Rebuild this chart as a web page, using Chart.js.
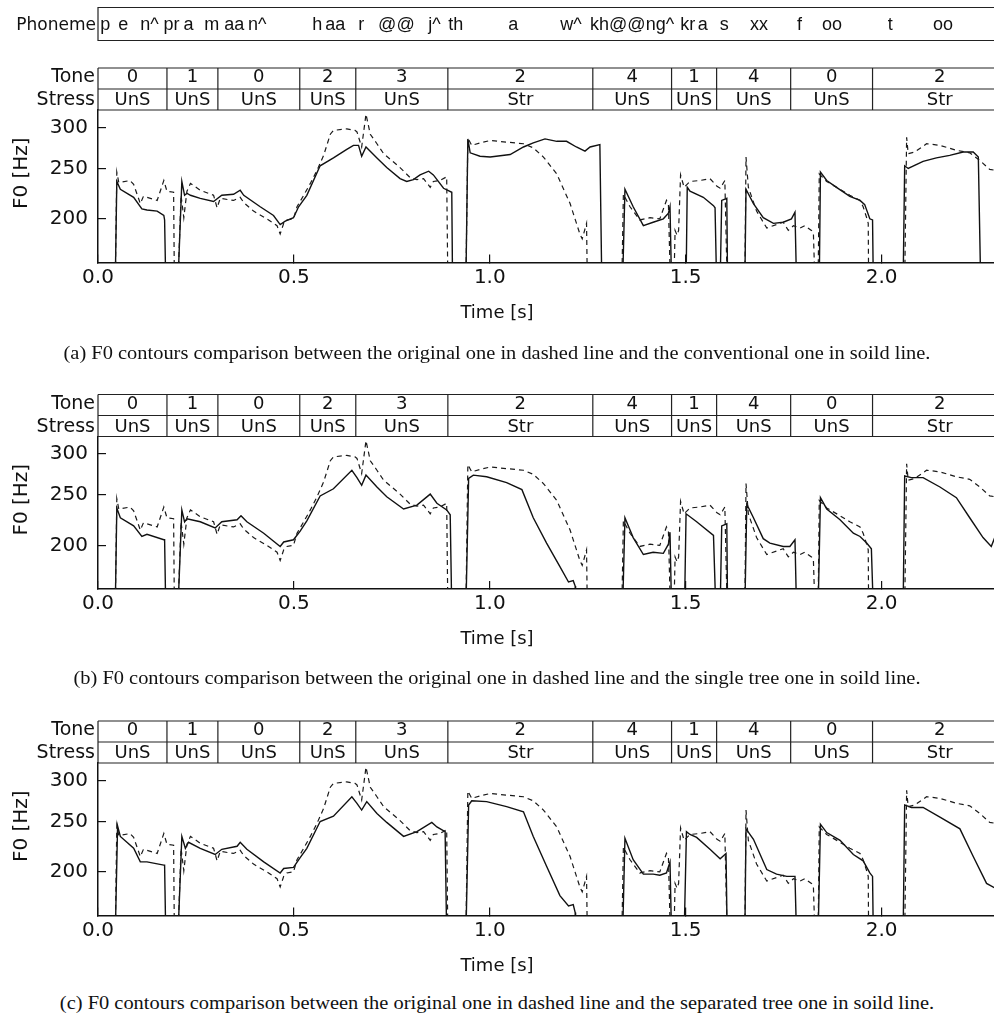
<!DOCTYPE html>
<html>
<head>
<meta charset="utf-8">
<script src="https://cdn.jsdelivr.net/npm/chart.js@4.4.1/dist/chart.umd.min.js"></script>
<style>
  body { margin: 0; background: #fff; width: 994px; height: 1014px; overflow: hidden; position: relative; }
  .panel { position: absolute; left: 0; width: 994px; }
  .cap { position: absolute; left: 0; width: 994px; text-align: center; line-height: 22px;
         font-family: "Liberation Serif", "Times New Roman", serif; font-size: 18px; color: #111;
         transform: scaleX(1.135); transform-origin: 497px 0; white-space: nowrap; }
</style>
</head>
<body>
<div class="panel" style="top:0"><canvas id="c1" width="994" height="330"></canvas></div>
<div class="panel" style="top:330px"><canvas id="c2" width="994" height="325"></canvas></div>
<div class="panel" style="top:655px"><canvas id="c3" width="994" height="335"></canvas></div>
<div class="cap" style="top:342px">(a) F0 contours comparison between the original one in dashed line and the conventional one in soild line.</div>
<div class="cap" style="top:667px">(b) F0 contours comparison between the original one in dashed line and the single tree one in soild line.</div>
<div class="cap" style="top:992px">(c) F0 contours comparison between the original one in dashed line and the separated tree one in soild line.</div>
<script>
// axis ticks
var xTicks = [0, 0.5, 1.0, 1.5, 2.0];
var xTickLabels = ["0.0", "0.5", "1.0", "1.5", "2.0"];
var yTicks = [200, 250, 300];
var yTickLabels = ["200", "250", "300"];

// syllable table (boundaries in seconds)
var segEdges = [0, 0.176, 0.306, 0.515, 0.658, 0.893, 1.263, 1.464, 1.579, 1.768, 1.977, 2.32];
var tones = ["0", "1", "0", "2", "3", "2", "4", "1", "4", "0", "2"];
var stresses = ["UnS", "UnS", "UnS", "UnS", "UnS", "Str", "UnS", "UnS", "UnS", "UnS", "Str"];

// phoneme labels and their start times
var phonemes = ["p", "e", "n^", "pr", "a", "m", "aa", "n^", "h", "aa", "r", "@@", "j^", "th", "a", "w^", "kh@@ng^", "kr", "a", "s", "xx", "f", "oo", "t", "oo"];
var phonemeT = [0.006, 0.052, 0.108, 0.167, 0.218, 0.271, 0.322, 0.383, 0.547, 0.580, 0.664, 0.715, 0.843, 0.894, 1.047, 1.180, 1.256, 1.486, 1.531, 1.587, 1.664, 1.784, 1.848, 2.016, 2.131];

// unvoiced frames drop below the axis floor
var U = 150;

// original F0 (dashed), same in every panel
var f0Orig = [
  [0.044,U],[0.048,246],[0.053,235],[0.082,237],[0.091,233],[0.108,214],[0.116,221],[0.151,217],[0.168,237],[0.176,226],[0.193,225],[0.195,U],
  [0.204,U],[0.212,222],[0.219,201],[0.227,226],[0.236,234],[0.261,227],[0.295,222],[0.304,210],[0.312,219],[0.346,217],[0.363,220],[0.372,215],[0.397,207],[0.431,200],[0.457,194],[0.465,187],[0.474,196],[0.482,199],[0.499,200],[0.508,211],[0.525,222],[0.542,234],[0.559,248],[0.576,265],[0.593,291],[0.601,296],[0.635,298],[0.656,296],[0.661,294],[0.673,275],[0.684,318],[0.695,291],[0.712,279],[0.729,267],[0.771,251],[0.797,240],[0.814,238],[0.831,239],[0.848,230],[0.856,236],[0.873,237],[0.890,241],[0.893,U],
  [0.939,U],[0.944,286],[0.954,277],[0.975,280],[1.001,283],[1.043,281],[1.086,279],[1.111,274],[1.137,263],[1.171,244],[1.205,214],[1.230,187],[1.236,183],[1.247,196],[1.249,U],
  [1.337,U],[1.341,223],[1.358,211],[1.383,199],[1.409,201],[1.434,200],[1.451,217],[1.456,213],[1.461,U],
  [1.470,U],[1.473,190],[1.478,186],[1.482,190],[1.487,243],[1.496,230],[1.511,236],[1.536,237],[1.562,239],[1.580,231],[1.588,229],[1.600,237],[1.606,U],
  [1.651,U],[1.654,263],[1.660,230],[1.681,207],[1.707,192],[1.732,195],[1.749,197],[1.762,190],[1.775,194],[1.792,192],[1.804,194],[1.821,190],[1.826,188],[1.830,U],
  [1.838,U],[1.841,244],[1.860,236],[1.894,228],[1.919,222],[1.945,217],[1.953,211],[1.962,201],[1.966,196],[1.967,U],
  [2.059,U],[2.064,287],[2.068,267],[2.085,269],[2.115,279],[2.149,277],[2.191,271],[2.225,268],[2.251,259],[2.276,249],[2.29,248]
];

// (a) conventional
var f0Conv = [
  [0.044,U],[0.048,236],[0.057,228],[0.091,220],[0.112,209],[0.125,208],[0.151,207],[0.168,203],[0.170,199],[0.173,U],
  [0.204,U],[0.214,236],[0.221,222],[0.227,224],[0.236,222],[0.261,219],[0.295,216],[0.316,222],[0.346,223],[0.363,227],[0.372,222],[0.414,211],[0.448,203],[0.465,195],[0.478,198],[0.499,201],[0.512,211],[0.533,222],[0.567,253],[0.601,262],[0.635,272],[0.652,277],[0.665,277],[0.673,264],[0.684,275],[0.712,262],[0.737,251],[0.771,239],[0.788,236],[0.805,238],[0.822,243],[0.844,247],[0.856,243],[0.882,229],[0.903,225],[0.905,U],
  [0.939,U],[0.944,285],[0.950,268],[0.975,264],[1.001,263],[1.052,266],[1.086,275],[1.111,280],[1.141,285],[1.171,282],[1.196,282],[1.221,275],[1.243,270],[1.256,275],[1.281,278],[1.286,U],
  [1.339,U],[1.345,228],[1.366,211],[1.392,194],[1.417,197],[1.443,200],[1.456,205],[1.460,211],[1.464,U],
  [1.501,U],[1.504,230],[1.511,226],[1.545,220],[1.571,212],[1.575,210],[1.579,U],
  [1.588,U],[1.592,217],[1.605,219],[1.607,U],
  [1.651,U],[1.654,228],[1.673,214],[1.698,201],[1.724,196],[1.749,197],[1.770,200],[1.779,206],[1.783,U],
  [1.841,U],[1.844,246],[1.860,237],[1.885,230],[1.919,221],[1.945,217],[1.957,213],[1.970,200],[1.977,199],[1.979,U],
  [2.055,U],[2.059,253],[2.068,250],[2.106,258],[2.140,262],[2.174,265],[2.208,269],[2.234,269],[2.247,263],[2.253,U]
];

// (b) single tree
var f0Single = [
  [0.044,U],[0.048,236],[0.057,226],[0.091,218],[0.112,208],[0.125,210],[0.168,205],[0.170,205],[0.173,U],
  [0.204,U],[0.214,234],[0.221,222],[0.227,225],[0.261,222],[0.299,216],[0.316,222],[0.355,224],[0.365,228],[0.380,222],[0.423,211],[0.465,199],[0.474,203],[0.499,205],[0.516,213],[0.533,223],[0.567,249],[0.601,257],[0.648,279],[0.661,270],[0.673,261],[0.684,273],[0.712,259],[0.737,248],[0.780,235],[0.814,239],[0.848,251],[0.865,241],[0.890,234],[0.899,229],[0.903,U],
  [0.939,U],[0.946,269],[0.958,273],[0.992,271],[1.043,264],[1.082,256],[1.111,226],[1.145,202],[1.179,182],[1.201,170],[1.213,171],[1.218,167],[1.219,U],
  [1.339,U],[1.345,226],[1.366,207],[1.392,192],[1.417,194],[1.443,193],[1.456,201],[1.460,212],[1.464,U],
  [1.497,U],[1.501,230],[1.528,222],[1.571,209],[1.577,U],
  [1.588,U],[1.592,218],[1.605,220],[1.607,U],
  [1.651,U],[1.656,240],[1.673,226],[1.698,206],[1.715,202],[1.749,199],[1.766,199],[1.779,205],[1.783,U],
  [1.838,U],[1.844,247],[1.860,235],[1.894,224],[1.928,211],[1.945,208],[1.962,202],[1.974,197],[1.979,U],
  [2.055,U],[2.059,272],[2.076,270],[2.106,270],[2.149,259],[2.191,247],[2.225,226],[2.259,207],[2.280,199],[2.29,208]
];

// (c) separated tree
var f0Sep = [
  [0.044,U],[0.050,245],[0.057,234],[0.091,222],[0.108,209],[0.125,209],[0.168,206],[0.170,206],[0.173,U],
  [0.204,U],[0.214,234],[0.223,222],[0.231,228],[0.261,222],[0.299,216],[0.316,221],[0.355,224],[0.363,228],[0.380,221],[0.423,209],[0.465,199],[0.474,203],[0.499,204],[0.516,213],[0.533,222],[0.567,250],[0.601,256],[0.648,279],[0.661,271],[0.673,263],[0.686,273],[0.712,259],[0.737,249],[0.780,234],[0.814,239],[0.852,249],[0.865,244],[0.886,239],[0.890,U],
  [0.939,U],[0.946,269],[0.954,274],[0.992,273],[1.043,267],[1.086,261],[1.111,234],[1.145,205],[1.179,180],[1.201,172],[1.213,173],[1.218,167],[1.219,U],
  [1.339,U],[1.345,232],[1.366,211],[1.392,198],[1.417,198],[1.434,197],[1.451,199],[1.460,209],[1.464,U],
  [1.496,U],[1.502,239],[1.511,236],[1.528,233],[1.562,221],[1.588,212],[1.603,217],[1.606,U],
  [1.651,U],[1.654,242],[1.673,231],[1.707,202],[1.732,198],[1.758,196],[1.779,196],[1.783,U],
  [1.838,U],[1.844,247],[1.860,238],[1.894,230],[1.928,216],[1.953,210],[1.970,199],[1.977,196],[1.979,U],
  [2.055,U],[2.059,269],[2.076,266],[2.106,266],[2.149,255],[2.200,242],[2.234,214],[2.268,190],[2.29,186]
];

Chart.defaults.font.family = "'DejaVu Sans'";
Chart.defaults.color = "#111";

function toXY(arr) {
  return arr.map(function (p) { return { x: p[0], y: p[1] }; });
}

function font(size, fam) { return size + "px " + (fam || "'DejaVu Sans'"); }

// table, phoneme row and axis titles
function framePlugin(showPhon) {
  return {
    id: "frame",
    afterDraw: function (chart) {
      var ctx = chart.ctx, a = chart.chartArea, x = chart.scales.x;
      var W = chart.width;
      var rTop = a.top - 42, rMid = a.top - 21;
      ctx.save();
      ctx.strokeStyle = "#222";
      ctx.lineWidth = 1.2;
      ctx.fillStyle = "#111";

      // grid of the tone/stress table
      ctx.beginPath();
      [rTop, rMid, a.top].forEach(function (yy) { ctx.moveTo(a.left, yy); ctx.lineTo(W, yy); });
      segEdges.forEach(function (t) {
        var px = x.getPixelForValue(t);
        ctx.moveTo(px, rTop); ctx.lineTo(px, a.top);
      });
      ctx.stroke();

      ctx.font = font(19);
      ctx.textAlign = "right";
      ctx.textBaseline = "alphabetic";
      ctx.fillText("Tone", a.left - 3, rTop + 14);
      ctx.fillText("Stress", a.left - 3, rMid + 16);

      ctx.font = font(18);
      ctx.textAlign = "center";
      for (var i = 0; i < tones.length; i++) {
        var cx = (x.getPixelForValue(segEdges[i]) + x.getPixelForValue(segEdges[i + 1])) / 2;
        ctx.fillText(tones[i], cx, rTop + 14);
        ctx.fillText(stresses[i], cx, rMid + 16);
      }

      if (showPhon) {
        var pTop = 7.5, pBot = 40.5;
        ctx.beginPath();
        ctx.moveTo(W, pTop); ctx.lineTo(a.left, pTop); ctx.lineTo(a.left, pBot); ctx.lineTo(W, pBot);
        ctx.stroke();
        ctx.font = font(17);
        ctx.textAlign = "right";
        ctx.fillText("Phoneme", a.left - 2, 30);
        ctx.textAlign = "left";
        ctx.font = font(18, "'Liberation Sans'");
        phonemes.forEach(function (p, k) {
          ctx.fillText(p, x.getPixelForValue(phonemeT[k]), 30);
        });
      }

      // axis titles
      ctx.font = font(18);
      ctx.textAlign = "center";
      ctx.textBaseline = "middle";
      ctx.fillText("Time [s]", W / 2, a.bottom + 50.5);
      ctx.translate(22, (a.top + a.bottom) / 2 - 13);
      ctx.rotate(-Math.PI / 2);
      ctx.font = font(20);
      ctx.fillText("F0 [Hz]", 0, 0);
      ctx.restore();
    }
  };
}

function makeChart(id, solid, padTop, axisH, showPhon) {
  return new Chart(document.getElementById(id), {
    type: "line",
    data: {
      datasets: [
        { data: toXY(f0Orig), borderColor: "#1a1a1a", borderWidth: 1.2, borderDash: [5, 4] },
        { data: toXY(solid), borderColor: "#111", borderWidth: 1.4 }
      ]
    },
    options: {
      responsive: false,
      animation: false,
      layout: { padding: { top: padTop, left: 0, right: 0, bottom: 0 } },
      elements: { point: { radius: 0 }, line: { tension: 0 } },
      plugins: { legend: { display: false }, tooltip: { enabled: false } },
      scales: {
        x: {
          type: "linear",
          min: 0,
          max: 2.287,
          afterBuildTicks: function (s) { s.ticks = xTicks.map(function (v) { return { value: v }; }); },
          afterFit: function (s) { s.height = axisH; },
          ticks: {
            callback: function (v, i) { return xTickLabels[i]; },
            font: { size: 20 }, padding: 11, maxRotation: 0, autoSkip: false
          },
          grid: { drawOnChartArea: false, tickLength: -8, color: "#111", lineWidth: 1.2 },
          border: { color: "#111", width: 1.5 }
        },
        y: {
          type: "logarithmic",
          min: 164.8,
          max: 324,
          afterBuildTicks: function (s) { s.ticks = yTicks.map(function (v) { return { value: v }; }); },
          afterFit: function (s) { s.width = 98; },
          ticks: {
            callback: function (v, i) { return yTickLabels[i]; },
            font: { size: 20 }, padding: 18
          },
          grid: { drawOnChartArea: false, tickLength: -8, color: "#111", lineWidth: 1.2 },
          border: { color: "#111", width: 1.5 }
        }
      }
    },
    plugins: [framePlugin(showPhon)]
  });
}

makeChart("c1", f0Conv, 110, 67.5, true);
makeChart("c2", f0Single, 106.5, 66, false);
makeChart("c3", f0Sep, 108, 74.5, false);
</script>
</body>
</html>
